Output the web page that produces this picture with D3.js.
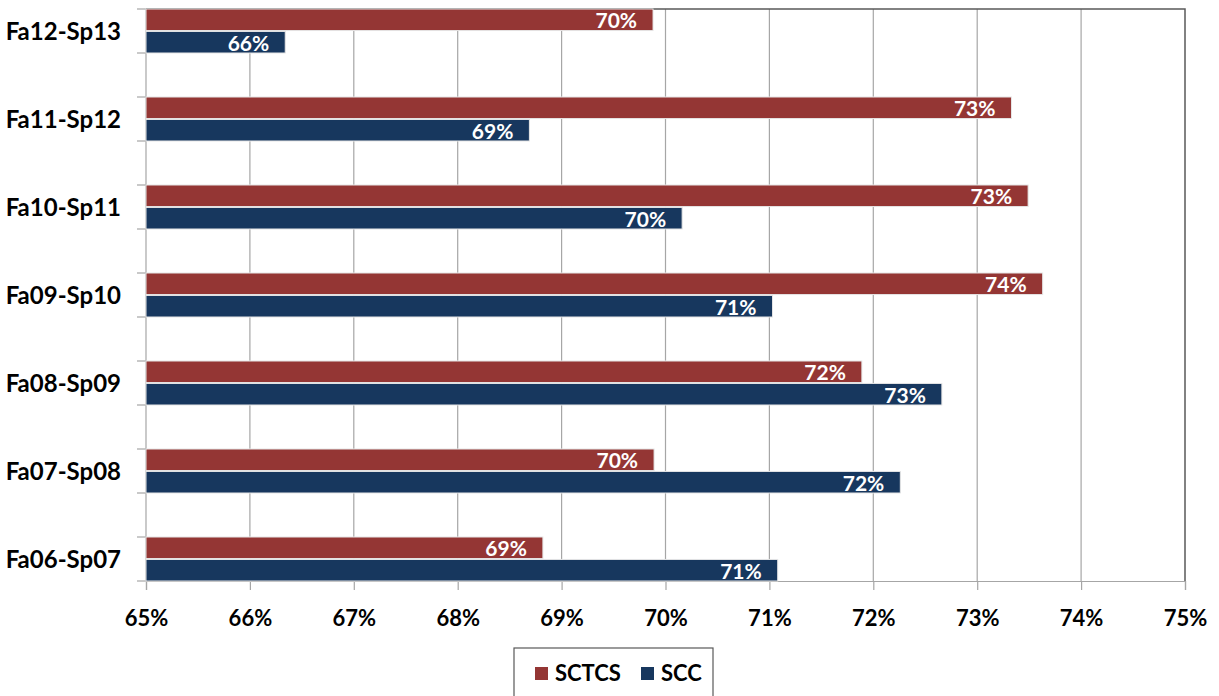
<!DOCTYPE html>
<html>
<head>
<meta charset="utf-8">
<script src="https://cdn.jsdelivr.net/npm/d3@7"></script>
<style>
  html, body { margin: 0; padding: 0; background: #ffffff; }
  svg { display: block; font-family: Lato, "Open Sans", sans-serif; }
</style>
</head>
<body>
<svg id="chart" width="1219" height="696"></svg>
<script>
// Academic years, top to bottom
const categories = ["Fa12-Sp13", "Fa11-Sp12", "Fa10-Sp11", "Fa09-Sp10", "Fa08-Sp09", "Fa07-Sp08", "Fa06-Sp07"];
const seriesNames = ["SCTCS", "SCC"];
const sctcsValues = [0.6988, 0.7333, 0.7349, 0.7363, 0.7189, 0.6989, 0.6882];
const sccValues   = [0.6634, 0.6869, 0.7016, 0.7103, 0.7266, 0.7226, 0.7108];
const xTicks = [0.65, 0.66, 0.67, 0.68, 0.69, 0.70, 0.71, 0.72, 0.73, 0.74, 0.75];
const seriesColors = ["#943634", "#17375e"];

const svg = d3.select("#chart");
const plot = { left: 146, right: 1185, top: 9, bottom: 581 };

const x = d3.scaleLinear().domain([0.65, 0.75]).range([plot.left, plot.right]);
const y = d3.scaleBand().domain(categories).range([plot.top, plot.bottom])
  .paddingInner(0.5).paddingOuter(0);
const ySeries = d3.scaleBand().domain(seriesNames).range([0, y.bandwidth()]).paddingInner(0.04);
const pct = d3.format(".0%");

// vertical gridlines
svg.append("g").selectAll("line").data(xTicks.slice(1, -1)).join("line")
  .attr("x1", d => x(d)).attr("x2", d => x(d))
  .attr("y1", plot.top).attr("y2", plot.bottom)
  .attr("stroke", "#a6a6a6").attr("stroke-width", 1.2);

// plot frame: top and right edges
svg.append("path")
  .attr("d", `M${plot.left},${plot.top}H${plot.right}V${plot.bottom}`)
  .attr("fill", "none").attr("stroke", "#595959").attr("stroke-width", 1.5);

// x axis
const xAxis = svg.append("g").attr("transform", `translate(0,${plot.bottom})`)
  .call(d3.axisBottom(x).tickValues(xTicks).tickFormat(pct).tickSize(9).tickPadding(20));
xAxis.select(".domain").attr("stroke", "#a6a6a6").attr("stroke-width", 1.2);
xAxis.selectAll(".tick line").attr("stroke", "#a6a6a6").attr("stroke-width", 1.2);
xAxis.selectAll(".tick text").attr("fill", "#000").attr("font-size", 22).attr("font-weight", 700)
  .attr("font-family", "Lato, sans-serif");

// y axis line and tick marks at each group's edges
svg.append("line").attr("x1", plot.left).attr("x2", plot.left)
  .attr("y1", plot.top).attr("y2", plot.bottom)
  .attr("stroke", "#a6a6a6").attr("stroke-width", 1.2);
const edges = categories.flatMap(c => [y(c), y(c) + y.bandwidth()]);
svg.append("g").selectAll("line").data(edges).join("line")
  .attr("x1", plot.left - 9).attr("x2", plot.left)
  .attr("y1", d => d).attr("y2", d => d)
  .attr("stroke", "#a6a6a6").attr("stroke-width", 1.2);

// category labels
svg.append("g").selectAll("text").data(categories).join("text")
  .attr("x", plot.left - 25)
  .attr("y", d => y(d) + y.bandwidth() / 2)
  .attr("dy", "0.36em")
  .attr("text-anchor", "end")
  .attr("font-size", 24).attr("font-weight", 700).attr("fill", "#000")
  .text(d => d);

// bars
const rows = categories.flatMap((c, i) => [
  { cat: c, series: "SCTCS", value: sctcsValues[i], color: seriesColors[0] },
  { cat: c, series: "SCC", value: sccValues[i], color: seriesColors[1] }
]);
const bars = svg.append("g").selectAll("g").data(rows).join("g");
bars.append("rect")
  .attr("x", plot.left)
  .attr("y", d => y(d.cat) + ySeries(d.series))
  .attr("width", d => x(d.value) - plot.left)
  .attr("height", ySeries.bandwidth())
  .attr("fill", d => d.color)
  .attr("stroke", "#e6e6e6").attr("stroke-width", 1);
bars.append("text")
  .attr("x", d => x(d.value) - 16)
  .attr("y", d => y(d.cat) + ySeries(d.series) + ySeries.bandwidth() / 2)
  .attr("dy", "0.4em")
  .attr("text-anchor", "end")
  .attr("font-size", 21).attr("font-weight", 700).attr("fill", "#ffffff")
  .text(d => pct(d.value));

// legend
const legend = svg.append("g");
legend.append("rect").attr("x", 514).attr("y", 648).attr("width", 199).attr("height", 60)
  .attr("fill", "#fff").attr("stroke", "#595959").attr("stroke-width", 1.2);
const legendItems = [
  { name: seriesNames[0], color: seriesColors[0], x: 535 },
  { name: seriesNames[1], color: seriesColors[1], x: 641 }
];
const li = legend.selectAll("g").data(legendItems).join("g")
  .attr("transform", d => `translate(${d.x},0)`);
li.append("rect").attr("x", 0).attr("y", 667).attr("width", 13).attr("height", 13)
  .attr("fill", d => d.color);
li.append("text").attr("x", 20).attr("y", 681)
  .attr("font-size", 22).attr("font-weight", 700).attr("fill", "#000")
  .text(d => d.name);
</script>
</body>
</html>
